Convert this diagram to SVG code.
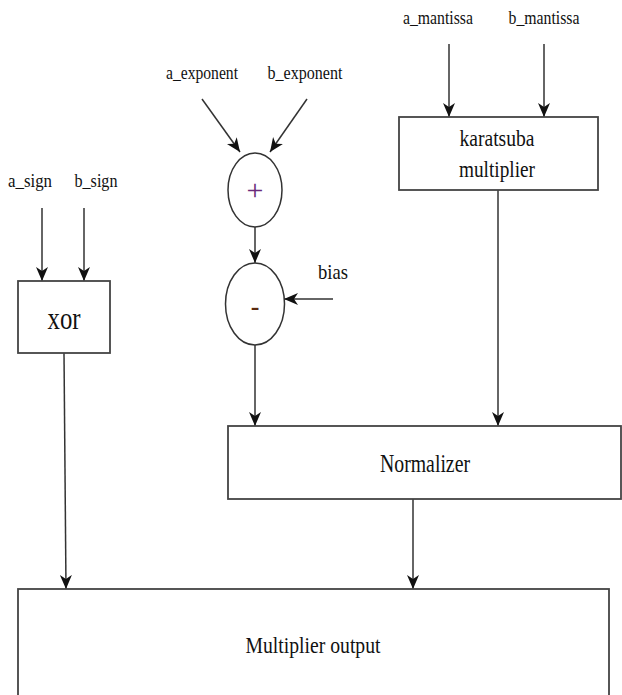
<svg xmlns="http://www.w3.org/2000/svg" width="622" height="695" viewBox="0 0 622 695" font-family="'Liberation Serif', Tinos, 'DejaVu Serif', serif">
<style>
.box{fill:#fff;stroke:#444;stroke-width:1.8}
.circ{fill:#fff;stroke:#333;stroke-width:1.5}
.edge{fill:none;stroke:#333;stroke-width:1.5;marker-end:url(#ah)}
text{fill:#111;text-anchor:middle}
.lbl{font-size:18px}
</style>
<defs>
<marker id="ah" markerUnits="userSpaceOnUse" markerWidth="16" markerHeight="14" refX="14" refY="6" orient="auto">
<path d="M0,0 L14,6 L0,12 L4,6 Z" fill="#111"/>
</marker>
</defs>
<rect width="622" height="695" fill="#fff"/>
<g id="connectors">
<line class="edge" x1="449" y1="44" x2="449" y2="117"/>
<line class="edge" x1="544" y1="44" x2="544" y2="117"/>
<line class="edge" x1="202" y1="99" x2="240" y2="152"/>
<line class="edge" x1="307" y1="99" x2="270" y2="152"/>
<line class="edge" x1="255" y1="227" x2="255" y2="263"/>
<line class="edge" x1="333" y1="299" x2="284" y2="299"/>
<line class="edge" x1="255" y1="345" x2="255" y2="426"/>
<line class="edge" x1="498" y1="190" x2="498" y2="426"/>
<line class="edge" x1="42" y1="208" x2="42" y2="281"/>
<line class="edge" x1="84" y1="208" x2="84" y2="281"/>
<line class="edge" x1="64" y1="353" x2="66" y2="589"/>
<line class="edge" x1="413" y1="499" x2="413" y2="589"/>
</g>
<g id="labels">
<text class="lbl" x="438" y="24" textLength="70" lengthAdjust="spacingAndGlyphs">a_mantissa</text>
<text class="lbl" x="544" y="24" textLength="71" lengthAdjust="spacingAndGlyphs">b_mantissa</text>
<text class="lbl" x="202" y="79" textLength="72" lengthAdjust="spacingAndGlyphs">a_exponent</text>
<text class="lbl" x="305" y="79" textLength="75" lengthAdjust="spacingAndGlyphs">b_exponent</text>
<text class="lbl" x="30" y="187" textLength="44" lengthAdjust="spacingAndGlyphs">a_sign</text>
<text class="lbl" x="96" y="187" textLength="43" lengthAdjust="spacingAndGlyphs">b_sign</text>
<text x="333" y="279" font-size="22" textLength="30" lengthAdjust="spacingAndGlyphs">bias</text>
</g>
<g id="karatsuba">
<rect class="box" x="399" y="117" width="199" height="73"/>
<text x="497" y="146" font-size="24" textLength="75" lengthAdjust="spacingAndGlyphs">karatsuba</text>
<text x="497" y="177" font-size="24" textLength="76" lengthAdjust="spacingAndGlyphs">multiplier</text>
</g>
<g id="adder">
<ellipse class="circ" cx="255" cy="190" rx="27" ry="37"/>
<text x="255" y="200" font-size="30" style="fill:#6a2a7a">+</text>
</g>
<g id="subtractor">
<ellipse class="circ" cx="255" cy="304" rx="29.5" ry="41"/>
<text x="255" y="315" font-size="26" font-weight="bold" style="fill:#5a2a10">-</text>
</g>
<g id="xor">
<rect class="box" x="18" y="281" width="92" height="72"/>
<text x="64" y="329" font-size="32" textLength="33" lengthAdjust="spacingAndGlyphs">xor</text>
</g>
<g id="normalizer">
<rect class="box" x="228" y="426" width="393" height="73"/>
<text x="425" y="472" font-size="26" textLength="90" lengthAdjust="spacingAndGlyphs">Normalizer</text>
</g>
<g id="output">
<rect class="box" x="18" y="589" width="591" height="120"/>
<text x="313" y="653" font-size="24" textLength="135" lengthAdjust="spacingAndGlyphs">Multiplier output</text>
</g>
</svg>
